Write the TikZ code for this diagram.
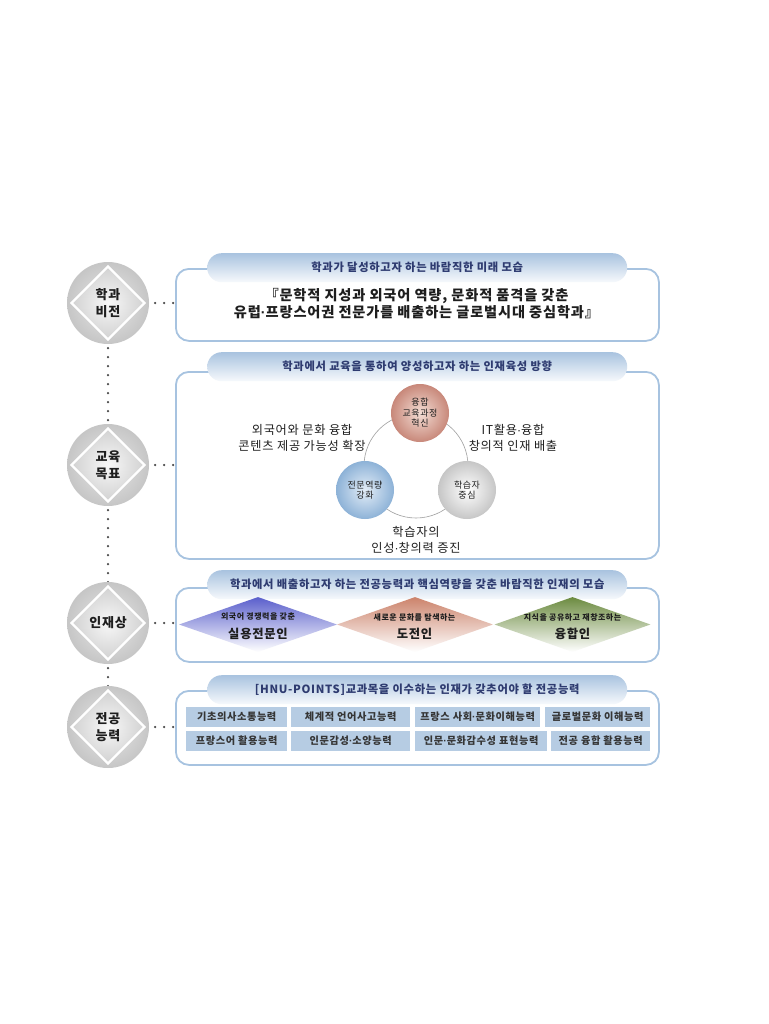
\documentclass[tikz,border=0pt]{standalone}
\usepackage{fontspec}
\setmainfont{Noto Sans CJK KR}[LetterSpace=6]
\newfontfamily\dotfont{Liberation Sans}
\newcommand\md{{\dotfont\bfseries ·}}
\newcommand\mdr{{\dotfont ·}}
\usetikzlibrary{shapes.geometric}
\definecolor{navy}{HTML}{2E3B70}
\definecolor{boxline}{HTML}{A7C3E0}
\definecolor{tabtop}{HTML}{A9C3DF}
\definecolor{cellfill}{HTML}{B6CCE3}
\definecolor{dotc}{HTML}{484848}
\definecolor{txt}{HTML}{1E1E1E}
\definecolor{rosee}{HTML}{C8887A}
\definecolor{rosec}{HTML}{F3DDD4}
\definecolor{bluee}{HTML}{8DB2D7}
\definecolor{bluec}{HTML}{E3EDF7}
\definecolor{graye}{HTML}{C6C6C6}
\definecolor{dAtop}{HTML}{5A5FCC}
\definecolor{dBtop}{HTML}{CC836B}
\definecolor{dCtop}{HTML}{6C8B40}
\newcommand\fsz[2]{\fontsize{#1}{#2}\selectfont}
\begin{document}
\begin{tikzpicture}[x=1pt,y=-1pt,
  lcirc/.style={circle,minimum size=82pt,inner sep=0pt,inner color=gray!18,outer color=gray!45},
  ldiam/.style={diamond,minimum width=74pt,minimum height=74pt,inner sep=0pt,draw=white,line width=2.4pt,inner color=gray!6,outer color=gray!36,align=center,text=txt,font=\bfseries\fsz{13}{17}},
  vdots/.style={dotc,line width=2.5pt,line cap=round,dash pattern=on 0pt off 9pt},
  mbox/.style={draw=boxline,line width=1.8pt,rounded corners=13pt,fill=white,minimum width=483pt,anchor=north west,inner sep=0pt},
  tabs/.style={rounded corners=14.5pt,top color=tabtop,bottom color=white!90!tabtop,minimum width=420pt,minimum height=29pt,inner sep=0pt,text=navy,font=\bfseries\fsz{11.3}{13},anchor=north west},
  ptxt/.style={align=center,text=txt,font=\fsz{12.2}{16}},
  sc/.style={circle,minimum size=58pt,inner sep=0pt,align=center,text=txt,font=\fsz{9}{10.5}},
  pdiam/.style={diamond,inner sep=0pt,minimum width=158pt,minimum height=55pt,bottom color=white},
  smalltxt/.style={text=txt,font=\bfseries\fsz{8}{9}},
  bigtxt/.style={text=txt,font=\bfseries\fsz{12.3}{14}},
  cell/.style={fill=cellfill,minimum height=20pt,inner sep=0pt,anchor=west,text=txt!90,font=\bfseries\fsz{10.2}{11}}
]
\useasboundingbox[fill=white] (0,0) rectangle (768,1024);

% boxes
\node[mbox,minimum height=72pt] (b1) at (175,268) {};
\node[mbox,minimum height=187pt] (b2) at (175,371) {};
\node[mbox,minimum height=74pt] (b3) at (175,587) {};
\node[mbox,minimum height=74pt] (b4) at (175,690) {};

% tabs
\node[tabs] (t1) at (207,253) {학과가 달성하고자 하는 바람직한 미래 모습};
\node[tabs] (t2) at (207,352) {학과에서 교육을 통하여 양성하고자 하는 인재육성 방향};
\node[tabs] (t3) at (207,570) {학과에서 배출하고자 하는 전공능력과 핵심역량을 갖춘 바람직한 인재의 모습};
\node[tabs] (t4) at (207,675) {[HNU-POINTS]교과목을 이수하는 인재가 갖추어야 할 전공능력};

% left circles
\coordinate (p1) at (108,303);
\coordinate (p2) at (108,465);
\coordinate (p3) at (108,623);
\coordinate (p4) at (108,727);
\draw[vdots] (p1) -- (p2);
\draw[vdots] (p2) -- (p3);
\draw[vdots] (p3) -- (p4);
\node[lcirc] (v1) at (p1) {};
\node[lcirc] (v2) at (p2) {};
\node[lcirc] (v3) at (p3) {};
\node[lcirc] (v4) at (p4) {};
\node[ldiam] (d1) at (p1) {학과\\비전};
\node[ldiam] (d2) at (p2) {교육\\목표};
\node[ldiam] (d3) at (p3) {인재상};
\node[ldiam] (d4) at (p4) {전공\\능력};

% horizontal dotted connectors
\draw[vdots] ([xshift=6pt]v1.east) -- (v1.east -| b1.west);
\draw[vdots] ([xshift=6pt]v2.east) -- (v2.east -| b2.west);
\draw[vdots] ([xshift=6pt]v3.east) -- (v3.east -| b3.west);
\draw[vdots] ([xshift=6pt]v4.east) -- (v4.east -| b4.west);

% box 1 content
\node[align=center,text=txt,font=\bfseries\fsz{14.2}{17}] (vision) at (416.5,304) {『문학적 지성과 외국어 역량, 문화적 품격을 갖춘\\유럽\md 프랑스어권 전문가를 배출하는 글로벌시대 중심학과』};

% box 2 content
\draw[gray!75,line width=0.6pt] (416,466) circle (52);
\node[sc,inner color=rosec,outer color=rosee] (s1) at (420,413) {융합\\교육과정\\혁신};
\node[sc,inner color=bluec,outer color=bluee] (s2) at (365,490) {전문역량\\강화};
\node[sc,inner color=white,outer color=graye] (s3) at (467,490) {학습자\\중심};
\node[ptxt] (g1) at (302,438) {외국어와 문화 융합\\콘텐츠 제공 가능성 확장};
\node[ptxt] (g2) at (513,438) {IT활용\mdr 융합\\창의적 인재 배출};
\node[ptxt] (g3) at (416,540) {학습자의\\인성\mdr 창의력 증진};

% box 3 content
\node[pdiam,top color=dAtop,bottom color=white] (q1) at (258,624.5) {};
\node[pdiam,top color=dBtop,bottom color=white,minimum width=156pt] (q2) at (415,624.5) {};
\node[pdiam,top color=dCtop,bottom color=white,minimum width=156pt] (q3) at (572.5,624.5) {};
\node[smalltxt] (q1a) at (258,617) {외국어 경쟁력을 갖춘};
\node[bigtxt] (q1b) at (258,634) {실용전문인};
\node[smalltxt] (q2a) at (414.5,617) {새로운 문화를 탐색하는};
\node[bigtxt] (q2b) at (414.5,634) {도전인};
\node[smalltxt] (q3a) at (572.5,617) {지식을 공유하고 재창조하는};
\node[bigtxt] (q3b) at (572.5,634) {융합인};

% box 4 content
\node[cell,minimum width=101pt] (k1) at (186,717) {기초의사소통능력};
\node[cell,minimum width=119pt] (k2) at (291,717) {체계적 언어사고능력};
\node[cell,minimum width=125pt] (k3) at (415,717) {프랑스 사회\md 문화이해능력};
\node[cell,minimum width=105pt] (k4) at (545,717) {글로벌문화 이해능력};
\node[cell,minimum width=101pt] (k5) at (186,740.5) {프랑스어 활용능력};
\node[cell,minimum width=119pt] (k6) at (291,740.5) {인문감성\md 소양능력};
\node[cell,minimum width=132pt] (k7) at (415,740.5) {인문\md 문화감수성 표현능력};
\node[cell,minimum width=99pt] (k8) at (551,740.5) {전공 융합 활용능력};
\end{tikzpicture}
\end{document}
